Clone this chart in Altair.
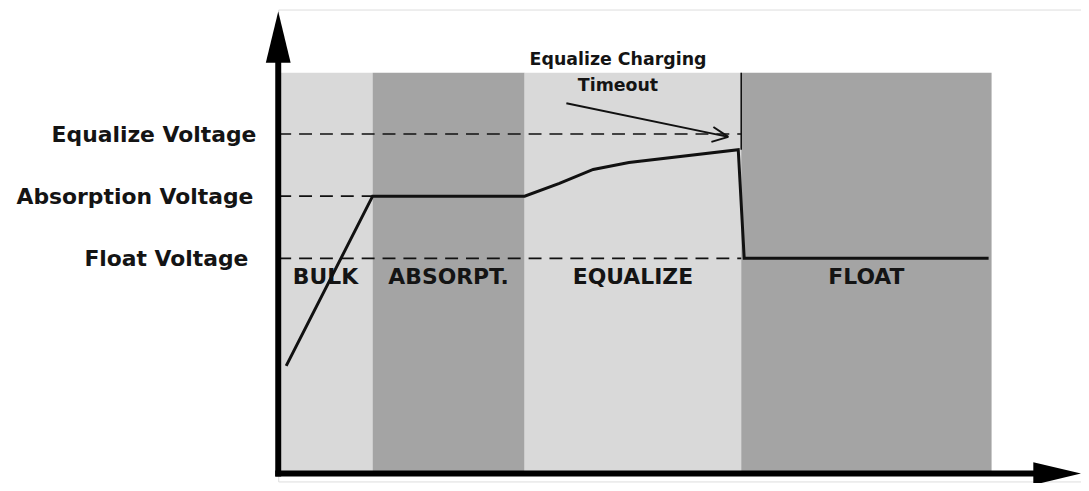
import altair as alt
import pandas as pd

# ---------------- data (time units on x, voltage units on y) ----------------
phase_names = ["BULK", "ABSORPT.", "EQUALIZE", "FLOAT"]
phase_start = [0, 95, 248, 466]
phase_end = [95, 248, 466, 718]
phase_shade = ["light", "dark", "light", "dark"]
band_bottom = 12
band_top = 418
phase_label_level = 211

level_names = ["Float Voltage", "Absorption Voltage", "Equalize Voltage"]
level_values = [230, 293, 356]
level_dash_end = [466, 95, 466]
level_label_time = [-30, -25, -22]

curve_time = [8, 95, 248, 283, 317, 353, 463, 469, 715]
curve_volt = [121, 293, 293, 306, 320, 327, 340, 230, 230]

timeout_time = [466]
timeout_from = [340]
timeout_to = [418]

arrow_x = [290, 438, 436]
arrow_y = [387, 363, 348]
arrow_x2 = [453, 453, 453]
arrow_y2 = [353, 353, 353]

annotation_text = ["Equalize Charging", "Timeout"]
annotation_time = [342, 342]
annotation_level = [431, 405]

axis_line_x = [0, -3]
axis_line_x2 = [0, 762]
axis_line_y = [9, 12]
axis_line_y2 = [430, 12]

vhead_x = [-12.5, 0, 12.5]
vhead_y = [428, 480, 428]
vhead_y2 = [428, 428, 428]
hhead_x = [760, 808]
hhead_y = [23.5, 12]
hhead_y2 = [0.5, 12]

X_MIN, X_MAX = 0, 808
Y_MIN, Y_MAX = 4, 482
W = 808
H = 475

# ---------------- tables ----------------
bands = pd.DataFrame({"phase": phase_names, "start": phase_start, "end": phase_end,
                      "shade": phase_shade, "bottom": band_bottom, "top": band_top,
                      "lab": phase_label_level})
levels = pd.DataFrame({"name": level_names, "v": level_values, "end": level_dash_end,
                       "start": 0, "lt": level_label_time})
curve = pd.DataFrame({"t": curve_time, "v": curve_volt, "order": range(len(curve_time))})
timeout = pd.DataFrame({"t": timeout_time, "v1": timeout_from, "v2": timeout_to})
arrow = pd.DataFrame({"x": arrow_x, "y": arrow_y, "x2": arrow_x2, "y2": arrow_y2})
annot = pd.DataFrame({"text": annotation_text, "t": annotation_time, "v": annotation_level})
axes_df = pd.DataFrame({"x": axis_line_x, "x2": axis_line_x2, "y": axis_line_y, "y2": axis_line_y2})
vhead = pd.DataFrame({"x": vhead_x, "y": vhead_y, "y2": vhead_y2})
hhead = pd.DataFrame({"x": hhead_x, "y": hhead_y, "y2": hhead_y2})

xscale = alt.Scale(domain=[X_MIN, X_MAX], nice=False, zero=False)
yscale = alt.Scale(domain=[Y_MIN, Y_MAX], nice=False, zero=False)


def X(f):
    return alt.X(f, type="quantitative", scale=xscale, axis=None)


def Y(f):
    return alt.Y(f, type="quantitative", scale=yscale, axis=None)


band_layer = alt.Chart(bands).mark_rect(strokeWidth=0).encode(
    x=X("start"), x2="end", y=Y("bottom"), y2="top",
    color=alt.Color("shade:N", scale=alt.Scale(domain=["light", "dark"],
                                               range=["#d9d9d9", "#a4a4a4"]), legend=None),
)

dash_layer = alt.Chart(levels).mark_rule(color="#111111", strokeWidth=1.6,
                                         strokeDash=[13, 8]).encode(
    x=X("start"), x2="end", y=Y("v"),
)

level_text = alt.Chart(levels).mark_text(font="DejaVu Sans", fontWeight="bold",
                                         fontSize=22, color="#141414",
                                         baseline="middle", align="right", dy=1).encode(
    x=X("lt"), y=Y("v"), text="name:N",
)

phase_text = alt.Chart(bands).transform_calculate(
    mid="(datum.start + datum.end) / 2"
).mark_text(font="DejaVu Sans", fontWeight="bold", fontSize=22, color="#141414",
            baseline="middle", align="center").encode(
    x=X("mid"), y=Y("lab"), text="phase:N",
)

curve_layer = alt.Chart(curve).mark_line(color="#111111", strokeWidth=3,
                                         strokeJoin="miter").encode(
    x=X("t"), y=Y("v"), order="order:Q",
)

timeout_layer = alt.Chart(timeout).mark_rule(color="#111111", strokeWidth=1.6).encode(
    x=X("t"), y=Y("v1"), y2="v2",
)

arrow_layer = alt.Chart(arrow).mark_rule(color="#111111", strokeWidth=2).encode(
    x=X("x"), y=Y("y"), x2="x2", y2="y2",
)

annot_layer = alt.Chart(annot).mark_text(font="DejaVu Sans", fontWeight="bold",
                                         fontSize=17.5, color="#141414",
                                         baseline="middle", align="center").encode(
    x=X("t"), y=Y("v"), text="text:N",
)

axes_layer = alt.Chart(axes_df).mark_rule(color="#000000", strokeWidth=6,
                                          strokeCap="butt").encode(
    x=X("x"), x2="x2", y=Y("y"), y2="y2",
)

vhead_layer = alt.Chart(vhead).mark_area(color="#000000", opacity=1).encode(
    x=X("x"), y=alt.Y("y", type="quantitative", scale=yscale, axis=None, stack=None),
    y2="y2",
)
hhead_layer = alt.Chart(hhead).mark_area(color="#000000", opacity=1).encode(
    x=X("x"), y=alt.Y("y", type="quantitative", scale=yscale, axis=None, stack=None),
    y2="y2",
)

chart = alt.layer(
    band_layer, dash_layer, level_text, phase_text, curve_layer, timeout_layer,
    arrow_layer, annot_layer, axes_layer, vhead_layer, hhead_layer,
).properties(
    width=W, height=H,
    autosize=alt.AutoSizeParams(type="none"),
    padding={"left": 272, "top": 0, "right": 0, "bottom": 0},
).configure_view(strokeWidth=0, stroke="transparent").configure(background="white")

chart.save("out.html", embed_options={"renderer": "svg", "actions": False})
